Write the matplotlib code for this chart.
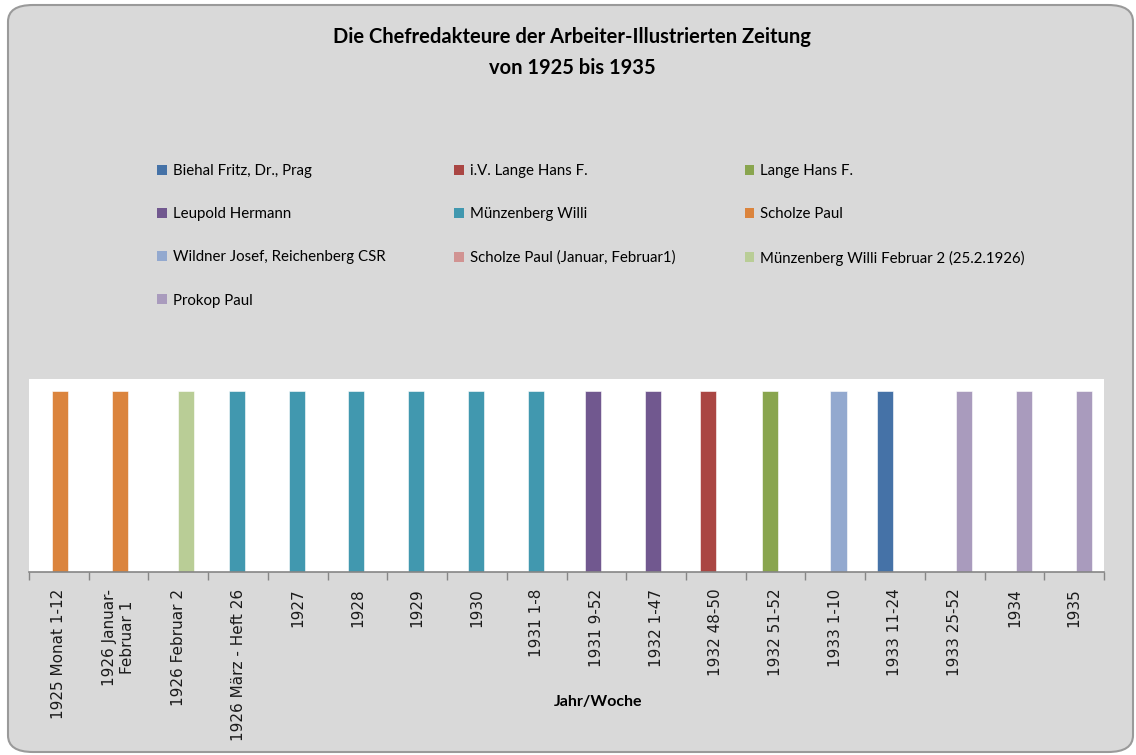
import numpy as np
import matplotlib
matplotlib.use("Agg")
import matplotlib.pyplot as plt
from matplotlib.patches import FancyBboxPatch, Patch

# Data
categories = [
    "1925 Monat 1-12", "1926 Januar-\nFebruar 1", "1926 Februar 2",
    "1926 März - Heft 26", "1927", "1928", "1929", "1930", "1931 1-8",
    "1931 9-52", "1932 1-47", "1932 48-50", "1932 51-52", "1933 1-10",
    "1933 11-24", "1933 25-52", "1934", "1935",
]
editors = [
    "Biehal Fritz, Dr., Prag",
    "i.V. Lange Hans F.",
    "Lange Hans F.",
    "Leupold Hermann",
    "Münzenberg Willi",
    "Scholze Paul",
    "Wildner Josef, Reichenberg CSR",
    "Scholze Paul (Januar, Februar1)",
    "Münzenberg Willi Februar 2 (25.2.1926)",
    "Prokop Paul",
]
colors = ["#4572A7", "#AA4643", "#89A54E", "#71588F", "#4198AF",
          "#DB843D", "#93A9CF", "#D19392", "#B9CD96", "#A99BBD"]
# editor in charge for each category (index into editors)
editor_of_category = [5, 5, 8, 4, 4, 4, 4, 4, 4, 3, 3, 1, 2, 6, 0, 9, 9, 9]

values = {e: [1 if editor_of_category[c] == i else 0 for c in range(len(categories))]
          for i, e in enumerate(editors)}

narrow = ["Lato", "DejaVu Sans"]

fig = plt.figure(figsize=(11.36, 7.55), dpi=100)
fig.patch.set_facecolor("white")

# rounded chart background
W, H = 1136, 755
bg = FancyBboxPatch((8 / W, 1 - 752 / H), (1133 - 8) / W, (752 - 5) / H,
                    boxstyle="round,pad=0,rounding_size=0.022",
                    transform=fig.transFigure, facecolor="#D9D9D9",
                    edgecolor="#9A9A9A", linewidth=1.5, zorder=-5)
fig.patches.append(bg)

ax = fig.add_axes([29 / W, 1 - 572 / H, (1104 - 29) / W, (572 - 379) / H])
ax.set_zorder(2)
ax.set_facecolor("white")

x = np.arange(len(categories))
step = 0.036
width = 0.27
handles = []
for i, e in enumerate(editors):
    ax.bar(x + (i - 4.5) * step, values[e], width, color=colors[i],
           edgecolor="white", linewidth=0.4, zorder=2)
    handles.append(Patch(facecolor=colors[i], label=e))

ax.set_xlim(-0.5, len(categories) - 0.5)
ax.set_ylim(0, 1.067)
ax.set_yticks([])
for s in ["top", "right", "left"]:
    ax.spines[s].set_visible(False)
ax.spines["bottom"].set_color("#868686")
ax.spines["bottom"].set_linewidth(1.2)

ax.set_xticks(np.arange(-0.5, len(categories)), labels=[])
ax.tick_params(axis="x", which="major", length=6, color="#868686", width=1)
ax.set_xticks(x, minor=True)
ax.set_xticklabels(categories, minor=True, rotation=90, fontsize=11,
                   family="DejaVu Sans", color="#1a1a1a", ma="center")
ax.tick_params(axis="x", which="minor", length=0, pad=12)

fig.text(572 / W, 1 - 37 / H, "Die Chefredakteure der Arbeiter-Illustrierten Zeitung",
         ha="center", va="center", fontsize=14.5, fontweight="bold", family=narrow)
fig.text(572 / W, 1 - 68 / H, "von 1925 bis 1935",
         ha="center", va="center", fontsize=14.5, fontweight="bold", family=narrow)
fig.text(598 / W, 1 - 702 / H, "Jahr/Woche", ha="center", va="center",
         fontsize=11.5, fontweight="bold", family=narrow)

order = [0, 3, 6, 9, 1, 4, 7, 2, 5, 8]
leg = fig.legend([handles[k] for k in order], [editors[k] for k in order],
                 ncol=3, loc="upper left", bbox_to_anchor=(151 / W, 1 - 158 / H),
                 frameon=False, prop={"family": narrow, "size": 10.8},
                 handlelength=0.65, handleheight=0.65, handletextpad=0.4,
                 labelspacing=1.95, columnspacing=4.6, borderaxespad=0)

fig.savefig("out.png", dpi=100)
